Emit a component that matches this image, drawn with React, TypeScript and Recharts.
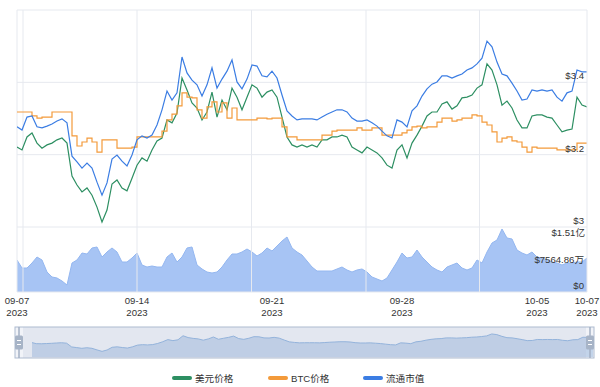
import React from 'react';
import { ComposedChart, Line, Area, XAxis, YAxis, ReferenceLine, Brush } from 'recharts';

const usdPrice = [3.221,3.213,3.249,3.260,3.232,3.218,3.227,3.232,3.241,3.246,
3.232,3.141,3.116,3.097,3.108,3.088,3.055,3.014,3.047,3.119,
3.130,3.108,3.100,3.135,3.171,3.191,3.182,3.213,3.238,3.246,
3.296,3.288,3.315,3.412,3.379,3.343,3.329,3.296,3.318,3.373,
3.304,3.351,3.324,3.384,3.359,3.324,3.359,3.393,3.384,3.359,
3.373,3.379,3.359,3.304,3.249,3.227,3.221,3.227,3.221,3.227,
3.221,3.241,3.241,3.249,3.249,3.254,3.249,3.221,3.213,3.205,
3.221,3.213,3.205,3.191,3.171,3.163,3.213,3.227,3.191,3.232,
3.254,3.279,3.307,3.318,3.318,3.340,3.346,3.326,3.335,3.357,
3.359,3.365,3.384,3.393,3.451,3.434,3.393,3.337,3.348,3.329,
3.296,3.274,3.274,3.307,3.310,3.310,3.304,3.301,3.282,3.263,
3.268,3.271,3.359,3.337,3.332];

const btcPrice = [3.318,3.318,3.318,3.307,3.301,3.304,3.304,3.318,3.318,3.318,
3.318,3.252,3.224,3.235,3.246,3.235,3.207,3.241,3.241,3.241,
3.218,3.218,3.218,3.221,3.249,3.249,3.249,3.249,3.249,3.265,
3.296,3.312,3.335,3.371,3.359,3.357,3.324,3.301,3.332,3.346,
3.318,3.343,3.301,3.329,3.296,3.296,3.296,3.296,3.301,3.301,
3.299,3.301,3.301,3.277,3.249,3.249,3.241,3.241,3.241,3.241,
3.241,3.254,3.254,3.265,3.268,3.268,3.268,3.268,3.274,3.268,
3.268,3.274,3.274,3.254,3.254,3.254,3.254,3.260,3.268,3.277,
3.279,3.274,3.277,3.277,3.290,3.301,3.301,3.293,3.296,3.301,
3.301,3.310,3.307,3.290,3.282,3.263,3.235,3.246,3.249,3.238,
3.235,3.221,3.207,3.221,3.218,3.218,3.218,3.218,3.213,3.213,
3.213,3.213,3.232,3.232,3.232];

const marketCap = [3.277,3.268,3.304,3.307,3.277,3.274,3.279,3.285,3.293,3.299,
3.288,3.196,3.180,3.163,3.177,3.163,3.124,3.088,3.122,3.188,
3.199,3.182,3.169,3.199,3.241,3.252,3.246,3.254,3.282,3.324,
3.376,3.351,3.371,3.470,3.426,3.406,3.393,3.362,3.393,3.440,
3.384,3.409,3.431,3.462,3.401,3.382,3.409,3.448,3.445,3.418,
3.415,3.431,3.412,3.365,3.321,3.307,3.296,3.299,3.299,3.299,
3.296,3.304,3.312,3.318,3.324,3.324,3.318,3.301,3.293,3.293,
3.296,3.288,3.279,3.265,3.252,3.246,3.296,3.290,3.277,3.321,
3.335,3.362,3.382,3.395,3.401,3.418,3.418,3.412,3.418,3.423,
3.434,3.440,3.451,3.467,3.514,3.498,3.456,3.423,3.418,3.398,
3.376,3.351,3.354,3.379,3.376,3.379,3.376,3.379,3.359,3.348,
3.371,3.376,3.434,3.429,3.429];

// 交易量 (万美元)
const volume = [7449,5586,5586,6750,8147,7449,4655,3492,3259,2560,
1629,6750,7449,9078,8845,10242,10475,8147,9311,10242,
9311,6983,6983,7914,9078,6285,5819,6052,5819,5819,
8147,9078,6983,8147,10242,10475,6285,5354,4655,4423,
4655,5819,7449,8845,8845,9311,10009,9311,8380,9078,
10242,9544,10707,11871,12802,10242,9311,8612,7216,5819,
4888,4888,4888,4888,5354,5819,5121,4655,5121,5354,
4655,3492,3026,2560,3259,5121,6983,9078,7914,8147,
9776,8147,6983,5819,5121,4655,5819,6285,6750,5586,
5121,5586,7449,6750,9311,11406,12104,14665,12570,12337,
9776,9078,8612,9311,8147,7914,7449,6983,6750,6285,
6750,6750,6983,6983,7914];

const tickIndex = [0, 24, 51, 77, 104, 114];
const tickDates = ['09-07', '09-14', '09-21', '09-28', '10-05', '10-07'];
const tickYear = '2023';
const gridIndex = [1.2, 24, 46.9, 69.8, 92.5];
const priceTicks = [3.4, 3.2, 3.0];
const priceLabels = ['$3.4', '$3.2', '$3'];
const volMax = 15129.72;
const volMid = 7564.86;
const volLabels = ['$1.51亿', '$7564.86万', '$0'];
const frameTicks = [2.8203, 2.9101, 3, 3.0857, 3.1714, 3.2571, 3.3429, 3.4286, 3.5143, 3.6];

const legendItems = [
  { name: '美元价格', color: '#2d8f62', left: 172 },
  { name: 'BTC价格', color: '#f39a3a', left: 268 },
  { name: '流通市值', color: '#3b7de3', left: 363 },
];

const data = usdPrice.map((v, i) => ({
  idx: i,
  usd: v,
  btc: btcPrice[i],
  mcap: marketCap[i],
  vol: volume[i],
}));

const FONT = '"Liberation Sans", Arial, "Noto Sans CJK SC", sans-serif';
const GRID = '#e6e9ef';
const TXT = '#333';

const DateTick = (props: any) => {
  const { x, y, payload } = props;
  const i = tickIndex.indexOf(payload.value);
  return (
    <text x={x} y={y} textAnchor="middle" fontSize={9.6} fill={TXT} fontFamily={FONT}>
      <tspan x={x} dy={11.5}>{tickDates[i]}</tspan>
      <tspan x={x} dy={12.5}>{tickYear}</tspan>
    </text>
  );
};

const Traveller = (props: any) => {
  const { x, y, width, height } = props;
  const cx = x + width / 2;
  const cy = y + height / 2;
  return (
    <g>
      <line x1={cx} x2={cx} y1={y} y2={y + height} stroke="#a3b0c4" strokeWidth={1.5} />
      <rect x={x} y={cy - 7} width={width} height={14} rx={1.5} fill="#a7b4c7" />
      <line x1={x + 2} x2={x + width - 2} y1={cy - 2} y2={cy - 2} stroke="#fff" />
      <line x1={x + 2} x2={x + width - 2} y1={cy + 2} y2={cy + 2} stroke="#fff" />
    </g>
  );
};

const labelStyle = { fontSize: 9.6, fill: TXT, fontFamily: FONT };

export default function App() {
  return (
    <div style={{ position: 'absolute', left: 0, top: 0, width: 600, height: 387, background: '#fff', fontFamily: FONT }}>
      <ComposedChart width={600} height={387} data={data} margin={{ top: 10, right: 0, bottom: 34, left: 17 }}>
        <XAxis dataKey="idx" type="number" domain={[0, 114]} allowDataOverflow ticks={tickIndex} interval={0}
          tick={<DateTick />} tickLine={false} tickSize={0} tickMargin={0} axisLine={{ stroke: GRID }} height={30} />
        <YAxis yAxisId="price" hide domain={[2.8203, 3.6]} allowDataOverflow />
        <YAxis yAxisId="vol" hide domain={[0, 65641]} allowDataOverflow />
        <YAxis yAxisId="frame" orientation="right" width={13} domain={[2.8203, 3.6]} allowDataOverflow
          ticks={frameTicks} interval={0} tick={false} tickSize={13} tickLine={{ stroke: GRID }} axisLine={{ stroke: GRID }} />

        {gridIndex.map((g) => (
          <ReferenceLine key={'v' + g} yAxisId="price" x={g} stroke={GRID} strokeWidth={1} />
        ))}
        <ReferenceLine yAxisId="price" x={0} stroke={GRID} />
        <ReferenceLine yAxisId="price" y={3.6} stroke={GRID} />

        <Area yAxisId="vol" dataKey="vol" type="linear" stroke="#94b7f0" strokeWidth={1} fill="#a7c4f4" fillOpacity={1} isAnimationActive={false} dot={false} />

        {priceTicks.map((p, k) => (
          <ReferenceLine key={'p' + p} yAxisId="price" y={p} stroke={GRID}
            label={{ value: priceLabels[k], position: 'insideBottomRight', offset: 3, ...labelStyle }} />
        ))}
        <ReferenceLine yAxisId="vol" y={volMax} stroke="none"
          label={{ value: volLabels[0], position: 'insideTopRight', offset: 2, ...labelStyle }} />
        <ReferenceLine yAxisId="vol" y={volMid} stroke="none"
          label={{ value: volLabels[1], position: 'insideRight', offset: 3, ...labelStyle }} />
        <ReferenceLine yAxisId="vol" y={0} stroke="none"
          label={{ value: volLabels[2], position: 'insideBottomRight', offset: 3, ...labelStyle }} />

        <Line yAxisId="price" dataKey="usd" type="linear" stroke={legendItems[0].color} strokeWidth={1.2} dot={false} isAnimationActive={false} />
        <Line yAxisId="price" dataKey="btc" type="stepAfter" stroke={legendItems[1].color} strokeWidth={1.2} dot={false} isAnimationActive={false} />
        <Line yAxisId="price" dataKey="mcap" type="linear" stroke={legendItems[2].color} strokeWidth={1.2} dot={false} isAnimationActive={false} />

        <Brush dataKey="idx" x={15} y={327} width={579} height={31} travellerWidth={8}
          fill="#f1f3f8" stroke="#aebbd0" traveller={Traveller} tickFormatter={() => ''}>
          <ComposedChart data={data}>
            <YAxis hide domain={[2.95, 3.66]} />
            <Area dataKey="mcap" type="linear" stroke="#8db2de" strokeWidth={1} fill="#c3d4ea" fillOpacity={1} isAnimationActive={false} dot={false} />
          </ComposedChart>
        </Brush>
      </ComposedChart>

      {legendItems.map((it) => (
        <div key={it.name} style={{ position: 'absolute', left: it.left, top: 371, height: 14, display: 'flex', alignItems: 'center', fontSize: 9.6, color: TXT, whiteSpace: 'nowrap' }}>
          <span style={{ display: 'inline-block', width: 20, height: 4, borderRadius: 2, background: it.color, marginRight: 3 }} />
          <span>{it.name}</span>
        </div>
      ))}
    </div>
  );
}
